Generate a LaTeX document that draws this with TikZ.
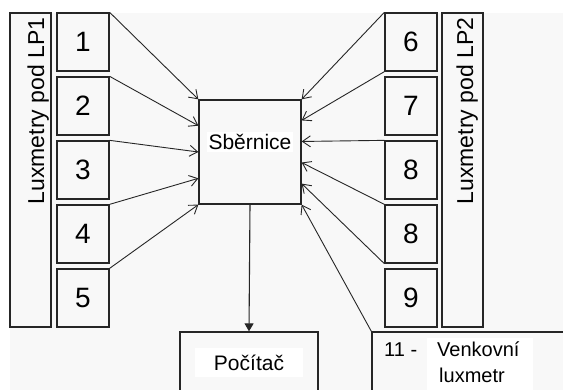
\documentclass[tikz,border=0pt]{standalone}
\usepackage{fontspec}
\setmainfont{Liberation Sans}
\usetikzlibrary{arrows.meta}
\usetikzlibrary{calc}
\definecolor{bggray}{HTML}{F8F8F8}
\definecolor{linegray}{HTML}{262626}
\newcommand{\luxbox}[4] % name, x center, y center, number
{
	\node[cell] (#1) at (#2,#3) {#4};
}

\begin{document}
\begin{tikzpicture}[x=1pt, y=-1pt,
	cell/.style={draw=linegray, line width=1.3pt, minimum width=52pt, minimum height=58pt, inner sep=0pt, font=\fontsize{28}{28}\selectfont},
	frame/.style={draw=linegray, line width=1.3pt, inner sep=0pt},
	arr/.style={draw=linegray, line width=0.9pt, -{Straight Barb[length=8pt,width=11pt]}},
	arrdown/.style={draw=linegray, line width=1.1pt, -{Triangle[length=8pt,width=9pt]}}]
	% page 563 x 390, y grows downwards
	\clip (0,0) rectangle (563,390);
	\useasboundingbox (0,0) rectangle (563,390);
	\fill[bggray] (10,13) rectangle (563,390);

	% left group
	\node[frame, minimum width=41pt, minimum height=314pt] (lp1) at (30.5,170) {};
	\node[rotate=90, anchor=base, font=\fontsize{23}{23}\selectfont] (lp1txt) at (44,111) {Luxmetry pod LP1};
	\luxbox{b1}{83}{42}{1};
	\luxbox{b2}{83}{106}{2};
	\luxbox{b3}{83}{170}{3};
	\luxbox{b4}{83}{234}{4};
	\luxbox{b5}{83}{298}{5};

	% right group
	\node[frame, minimum width=41pt, minimum height=314pt] (lp2) at (462.5,170) {};
	\node[rotate=90, anchor=base, font=\fontsize{23}{23}\selectfont] (lp2txt) at (473,111) {Luxmetry pod LP2};
	\luxbox{b6}{411}{42}{6};
	\luxbox{b7}{411}{106}{7};
	\luxbox{b8}{411}{170}{8};
	\luxbox{b8b}{411}{234}{8};
	\luxbox{b9}{411}{298}{9};

	% bus
	\node[frame, minimum width=102pt, minimum height=104pt] (bus) at (250,152) {};
	\node[fill=white, inner sep=2pt, font=\fontsize{21}{21}\selectfont] (bustxt) at ($(bus.center)+(0,-10)$) {Sběrnice};

	% computer
	\node[frame, minimum width=138pt, minimum height=100pt] (pc) at (249,382) {};
	\node[fill=white, minimum width=108pt, minimum height=29pt, inner sep=0pt, font=\fontsize{21}{21}\selectfont] (pctxt) at (249,362.5) {Počítač};

	% outdoor meter
	\node[frame, minimum width=228pt, minimum height=100pt] (out) at (486,382) {};
	\fill[white] (427,338) rectangle (533,392);
	\node[anchor=base west, inner sep=0pt, font=\fontsize{20}{20}\selectfont] (outnum) at (384,357) {11 -};
	\node[anchor=base west, inner sep=0pt, font=\fontsize{20}{20}\selectfont] (outtxt) at (437,357) {Venkovní};
	\node[anchor=base west, inner sep=0pt, font=\fontsize{20}{20}\selectfont] (outtxt2) at (439,383) {luxmetr};

	% left arrows
	\draw[arr] (b1.north east) -- (bus.north west);
	\draw[arr] (b2.north east) -- ($(bus.north west)!0.25!(bus.south west)$);
	\draw[arr] (b3.north east) -- ($(bus.north west)!0.5!(bus.south west)$);
	\draw[arr] (b4.north east) -- ($(bus.north west)!0.75!(bus.south west)$);
	\draw[arr] (b5.north east) -- (bus.south west);

	% right arrows
	\draw[arr] (b6.north west) -- (bus.north east);
	\draw[arr] (b6.south west) -- ($(bus.north east)!0.2!(bus.south east)$);
	\draw[arr] (b8.north west) -- ($(bus.north east)!0.4!(bus.south east)$);
	\draw[arr] (b8b.north west) -- ($(bus.north east)!0.6!(bus.south east)$);
	\draw[arr] (b8b.south west) -- ($(bus.north east)!0.8!(bus.south east)$);
	\draw[arr] (out.north west) -- (bus.south east);

	% bus to computer
	\draw[arrdown] (bus.south) -- (pc.north);
\end{tikzpicture}
\end{document}
